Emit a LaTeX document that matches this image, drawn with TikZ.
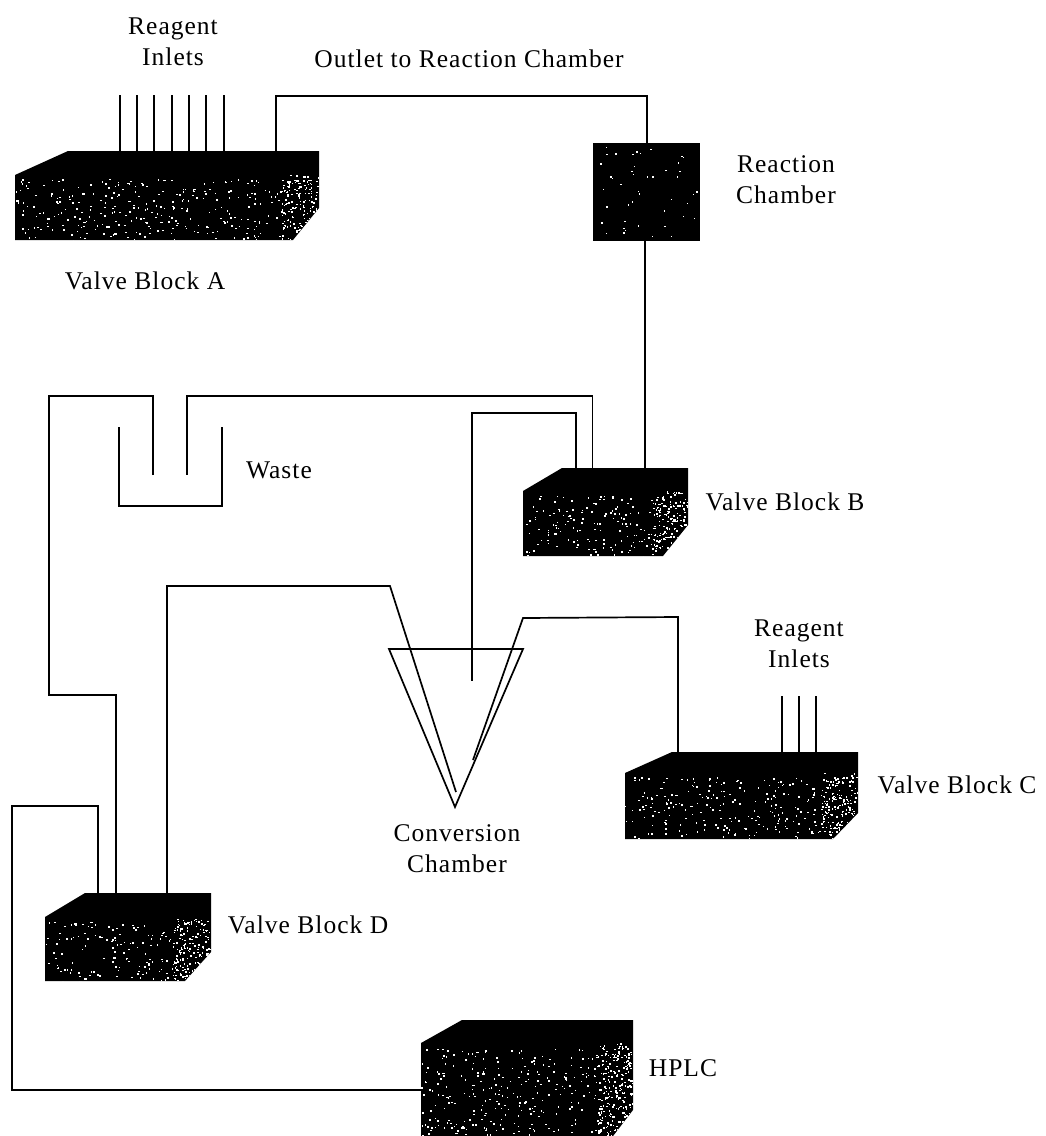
\documentclass[tikz,border=0pt]{standalone}
\usepackage{xcolor}
\usepackage{fontspec}
\setmainfont[LetterSpace=4]{Liberation Serif}
\usepackage{tikz}
\usetikzlibrary{fit}

\tikzset{
  pipe/.style={line width=1.7pt, line join=miter},
  lbl/.style={font=\fontsize{25.5}{31}\selectfont, align=center, inner sep=0pt, text=black}
}
% white grains inside a box: x, y, w, h, number
\newcommand{\grains}[5]{%
  \foreach \i in {1,...,#5}{%
    \fill[white] ({#1+rnd*(#3)},{#2+rnd*(#4)}) rectangle ++({0.9+rnd*1.3},{0.9+rnd*1.1});
  }%
}
% name, x left, x front right, x back left, x right, y top, y front top, y bottom, y right bottom
\newcommand{\valveblock}[9]{%
  \fill[black] (#4,#6) -- (#5,#6) -- (#5,#9) -- (#3,#8) -- (#2,#8) -- (#2,#7) -- cycle;
  \begin{scope}
    \clip (#4,#6) -- (#5,#6) -- (#5,#9) -- (#3,#8) -- (#2,#8) -- (#2,#7) -- cycle;
    \pgfmathtruncatemacro{\nfront}{(#3-#2)/60*(#8-#7)}
    \pgfmathtruncatemacro{\nside}{(#5-#3+12)/14*(#8-#7)}
    \grains{#2}{#7+4}{#3-#2}{#8-#7-4}{\nfront}
    \grains{#3-12}{#7}{#5-#3+12}{#8-#7}{\nside}
  \end{scope}
  \node[fit={(#2,#6)(#5,#8)}, inner sep=0pt] (#1) {};
}

\begin{document}
\begin{tikzpicture}[x=1pt, y=-1pt]
  \useasboundingbox (0,0) rectangle (1046,1136);
  \pgfmathsetseed{2718}

  % blocks
  \valveblock{A}{15}{293}{68}{319}{151}{175}{240}{208}
  \valveblock{B}{523}{663}{562}{688}{468}{491}{556}{525}
  \valveblock{C}{625}{833}{672}{858}{752}{773}{839}{813}
  \valveblock{D}{45}{185}{85}{211}{893}{917}{981}{952}
  \valveblock{H}{421}{610}{462}{633}{1020}{1043}{1140}{1110}
  \node[fill=black, minimum width=107pt, minimum height=98pt, inner sep=0pt] (RC) at (646.5,192) {};
  \grains{596}{146}{101}{92}{45}

  % end points of the lines
  \coordinate (Aout) at (276,96);
  \coordinate (RCtop) at (647,96);
  \coordinate (RCbot) at (645,300);
  \coordinate (Bwaste) at (592.5,396);
  \coordinate (Bconv) at (576,413);
  \coordinate (WaR) at (187,475);
  \coordinate (WaL) at (153,475);
  \coordinate (WaC) at (49,396);
  \coordinate (Dmid) at (116,695);
  \coordinate (ConvIn) at (472,681);
  \coordinate (Dtop) at (167,586);
  \coordinate (ConvA) at (390,586);
  \coordinate (ConvAend) at (456,792);
  \coordinate (Ctop) at (678,617);
  \coordinate (ConvB) at (523,618);
  \coordinate (ConvBend) at (473,760);
  \coordinate (Dleft) at (98,806);
  \coordinate (Hleft) at (12,1090);

  % reagent inlets
  \foreach \x in {120,137,154,172,189,206,224}
    \draw[pipe] (A.north -| \x,0) -- (\x,95);
  \foreach \x in {782,799,816}
    \draw[pipe] (C.north -| \x,0) -- (\x,696);

  % lines
  \draw[pipe] (A.north -| Aout) -- (Aout) -- (RCtop) -- (RC.north -| RCtop);
  \draw[pipe] (RC.south -| RCbot) -- (B.north -| RCbot);
  \draw[pipe] (B.north -| Bwaste) |- (WaR |- Bwaste) -- (WaR);
  \draw[pipe] (B.north -| Bconv) |- (ConvIn |- Bconv) -- (ConvIn);
  \draw[pipe] (WaL) |- (WaC) |- (Dmid) -- (D.north -| Dmid);
  \draw[pipe] (D.north -| Dtop) -- (Dtop) -- (ConvA) -- (ConvAend);
  \draw[pipe] (C.north -| Ctop) -- (Ctop) -- (ConvB) -- (ConvBend);
  \draw[pipe] (D.north -| Dleft) -- (Dleft) -| (Hleft) -- (Hleft -| H.west);

  % waste and conversion chamber
  \coordinate (WbL) at (119,427);
  \coordinate (WbR) at (222,427);
  \coordinate (WbB) at (119,506);
  \draw[pipe] (WbL) -- (WbB) -| (WbR);
  \coordinate (CCl) at (389,649);
  \coordinate (CCr) at (523,649);
  \coordinate (CCtip) at (455,807);
  \draw[pipe] (CCl) -- (CCr) -- (CCtip) -- cycle;

  % labels
  \node[lbl] (inlA) at (173,42) {Reagent\\Inlets};
  \node[lbl] (outl) at (469,59) {Outlet to Reaction Chamber};
  \node[lbl] (reac) at (786,180) {Reaction\\Chamber};
  \node[lbl] (vbA) at (145,281) {Valve Block A};
  \node[lbl] (wast) at (279,470) {Waste};
  \node[lbl] (vbB) at (785,502) {Valve Block B};
  \node[lbl] (inlC) at (799,644) {Reagent\\Inlets};
  \node[lbl] (vbC) at (957,785) {Valve Block C};
  \node[lbl] (conv) at (457,849) {Conversion\\Chamber};
  \node[lbl] (vbD) at (308,925) {Valve Block D};
  \node[lbl] (hplc) at (683,1068) {HPLC};
\end{tikzpicture}
\end{document}
